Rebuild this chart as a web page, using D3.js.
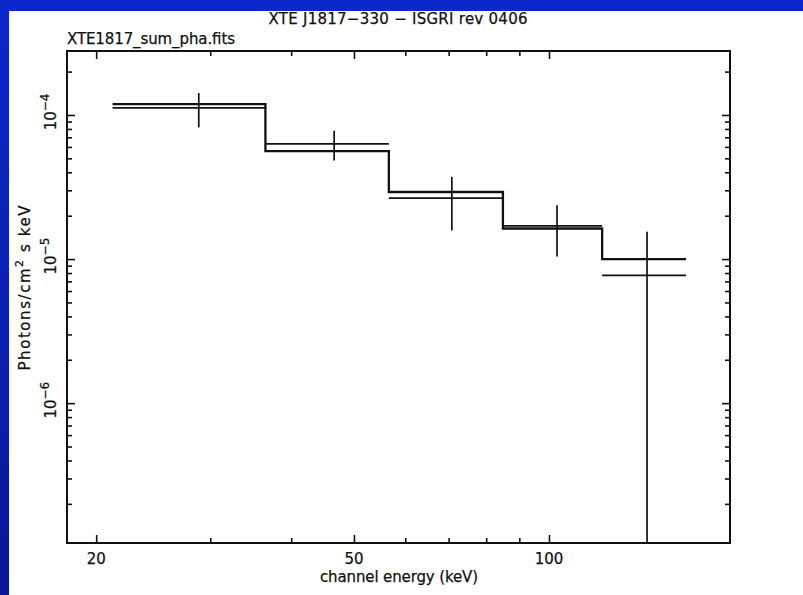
<!DOCTYPE html>
<html>
<head>
<meta charset="utf-8">
<script src="https://cdn.jsdelivr.net/npm/d3@7"></script>
<style>
  html, body { margin: 0; padding: 0; background: #ffffff; }
  svg { display: block; }
  text { font-family: "DejaVu Sans", Verdana, sans-serif; fill: #111; stroke: #111; stroke-width: 0.25px; }
</style>
</head>
<body>
<svg id="chart" width="803" height="595"></svg>
<script>
// Spectral bins (keV)
const binLo = [21.2, 36.5, 56.6, 84.9, 120.8];
const binHi = [36.5, 56.6, 84.9, 120.8, 162.8];
// Measured photon flux per bin, with 1-sigma errors
const dataE    = [28.8, 46.6, 70.8, 102.9, 141.7];
const dataFlux = [1.12e-4, 6.3e-5, 2.65e-5, 1.70e-5, 7.7e-6];
const dataErr  = [3.0e-5, 1.47e-5, 1.07e-5, 6.6e-6, 7.8e-6];
// Folded model per bin
const modelFlux = [1.19e-4, 5.62e-5, 2.92e-5, 1.63e-5, 1.0e-5];

// Axis ticks
const xMajor = [20, 50, 100];
const xMinor = [30, 40, 60, 70, 80, 90];
const yMajor = [1e-6, 1e-5, 1e-4];
const yMajorLabels = ["\u22126", "\u22125", "\u22124"];

const svg = d3.select("#chart");
const W = 803, H = 595;
const pL = 67, pR = 730, pT = 51, pB = 543;

// Blue frame
const defs = svg.append("defs");
const grad = defs.append("linearGradient").attr("id", "frameGrad")
  .attr("x1", 0).attr("y1", 0).attr("x2", 0).attr("y2", 1);
grad.append("stop").attr("offset", "0%").attr("stop-color", "#0a28cc");
grad.append("stop").attr("offset", "100%").attr("stop-color", "#0a1896");
svg.append("rect").attr("x", 0).attr("y", 0).attr("width", W).attr("height", H).attr("fill", "url(#frameGrad)");
svg.append("rect").attr("x", 0).attr("y", 0).attr("width", W).attr("height", 11).attr("fill", "#0a28cc");
svg.append("rect").attr("x", 9).attr("y", 11).attr("width", W - 9).attr("height", H - 11).attr("fill", "#ffffff");

const x = d3.scaleLog().domain([18.03, 190.3]).range([pL, pR]);
const y = d3.scaleLog().domain([1.07e-7, 2.78e-4]).range([pB, pT]);

// Minor y ticks: 2..9 in each decade inside the domain
const yMinor = [];
for (let e = -7; e <= -4; e++) {
  for (let m = 2; m <= 9; m++) {
    const v = m * Math.pow(10, e);
    if (v > y.domain()[0] && v < y.domain()[1]) yMinor.push(v);
  }
}

defs.append("clipPath").attr("id", "plotClip")
  .append("rect").attr("x", pL).attr("y", pT).attr("width", pR - pL).attr("height", pB - pT);

function styleAxis(g) {
  g.select(".domain").remove();
  g.selectAll(".tick line").attr("stroke", "#111").attr("stroke-width", 1.6);
  g.selectAll(".tick text").remove();
}

// Inward ticks on all four sides
const majLen = 8, minLen = 5;
svg.append("g").attr("transform", `translate(0,${pB})`)
  .call(d3.axisBottom(x).tickValues(xMajor).tickSize(-majLen).tickFormat("")).call(styleAxis);
svg.append("g").attr("transform", `translate(0,${pB})`)
  .call(d3.axisBottom(x).tickValues(xMinor).tickSize(-minLen).tickFormat("")).call(styleAxis);
svg.append("g").attr("transform", `translate(0,${pT})`)
  .call(d3.axisTop(x).tickValues(xMajor).tickSize(-majLen).tickFormat("")).call(styleAxis);
svg.append("g").attr("transform", `translate(0,${pT})`)
  .call(d3.axisTop(x).tickValues(xMinor).tickSize(-minLen).tickFormat("")).call(styleAxis);
svg.append("g").attr("transform", `translate(${pL},0)`)
  .call(d3.axisLeft(y).tickValues(yMajor).tickSize(-majLen).tickFormat("")).call(styleAxis);
svg.append("g").attr("transform", `translate(${pL},0)`)
  .call(d3.axisLeft(y).tickValues(yMinor).tickSize(-minLen).tickFormat("")).call(styleAxis);
svg.append("g").attr("transform", `translate(${pR},0)`)
  .call(d3.axisRight(y).tickValues(yMajor).tickSize(-majLen).tickFormat("")).call(styleAxis);
svg.append("g").attr("transform", `translate(${pR},0)`)
  .call(d3.axisRight(y).tickValues(yMinor).tickSize(-minLen).tickFormat("")).call(styleAxis);

// Frame
svg.append("rect").attr("x", pL).attr("y", pT).attr("width", pR - pL).attr("height", pB - pT)
  .attr("fill", "none").attr("stroke", "#111").attr("stroke-width", 2);

// X tick labels
svg.selectAll(".xlab").data(xMajor).enter().append("text")
  .attr("x", d => x(d)).attr("y", pB + 21)
  .attr("text-anchor", "middle").attr("font-size", 15)
  .text(d => d);

// Y tick labels: rotated 10^n
yMajor.forEach((v, i) => {
  const t = svg.append("text")
    .attr("transform", `translate(56,${y(v) - 3}) rotate(-90)`)
    .attr("text-anchor", "middle").attr("font-size", 15);
  t.append("tspan").text("10");
  t.append("tspan").attr("dy", -7).attr("font-size", 12).text(yMajorLabels[i]);
});

// Axis titles
svg.append("text").attr("x", 399).attr("y", 582).attr("text-anchor", "middle")
  .attr("font-size", 15).attr("textLength", 158).attr("lengthAdjust", "spacing")
  .text("channel energy (keV)");
const yt = svg.append("text").attr("transform", `translate(30,288) rotate(-90)`)
  .attr("text-anchor", "middle").attr("font-size", 15)
  .attr("textLength", 165).attr("lengthAdjust", "spacing");
yt.append("tspan").text("Photons/cm");
yt.append("tspan").attr("dy", -7).attr("font-size", 11).text("2");
yt.append("tspan").attr("dy", 7).text(" s keV");

// Titles
svg.append("text").attr("x", 398).attr("y", 24).attr("text-anchor", "middle")
  .attr("font-size", 15).attr("textLength", 259).attr("lengthAdjust", "spacing")
  .text("XTE J1817\u2212330 \u2212 ISGRI rev 0406");
svg.append("text").attr("x", 67).attr("y", 43.5).attr("text-anchor", "start")
  .attr("font-size", 15).attr("textLength", 168).attr("lengthAdjust", "spacing")
  .text("XTE1817_sum_pha.fits");

const plot = svg.append("g").attr("clip-path", "url(#plotClip)");

// Model step histogram
const stepPts = binLo.map((lo, i) => [lo, modelFlux[i]]);
stepPts.push([binHi[binHi.length - 1], modelFlux[modelFlux.length - 1]]);
plot.append("path")
  .attr("d", d3.line().x(d => x(d[0])).y(d => y(d[1])).curve(d3.curveStepAfter)(stepPts))
  .attr("fill", "none").attr("stroke", "#111").attr("stroke-width", 2.3);

// Data: horizontal bin-width bars and vertical error bars
const idx = d3.range(dataFlux.length);
plot.selectAll(".hbar").data(idx).enter().append("line")
  .attr("x1", i => x(binLo[i])).attr("x2", i => x(binHi[i]))
  .attr("y1", i => y(dataFlux[i])).attr("y2", i => y(dataFlux[i]))
  .attr("stroke", "#111").attr("stroke-width", 1.7);
plot.selectAll(".vbar").data(idx).enter().append("line")
  .attr("x1", i => x(dataE[i])).attr("x2", i => x(dataE[i]))
  .attr("y1", i => y(dataFlux[i] + dataErr[i]))
  .attr("y2", i => {
    const lo = dataFlux[i] - dataErr[i];
    return lo > y.domain()[0] ? y(lo) : pB;
  })
  .attr("stroke", "#111").attr("stroke-width", 1.7);
</script>
</body>
</html>
